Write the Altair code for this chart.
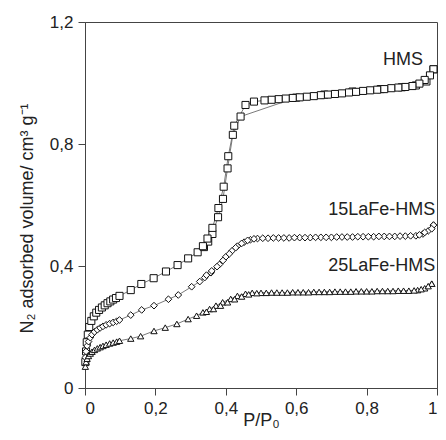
import altair as alt
import pandas as pd

SERIES = ["HMS", "15LaFe-HMS", "25LaFe-HMS"]
SHAPES = ["square", "diamond", "triangle-up"]
SIZES = [50, 40, 46]

# HMS
HMS_ads_P = [0.001,0.003,0.005,0.008,0.012,0.018,0.025,0.032,0.04,0.048,0.056,0.064,0.072,0.08,0.088,0.098,
             0.13,0.16,0.195,0.23,0.263,0.293,0.32,0.338,0.35,0.362,0.378,0.392,0.405,0.42,0.442,
             0.6,0.68,0.76,0.84,0.9,0.94,0.97,0.99]
HMS_ads_V = [0.085,0.12,0.15,0.175,0.2,0.22,0.235,0.247,0.256,0.264,0.271,0.278,0.284,0.29,0.295,0.302,
             0.321,0.341,0.36,0.382,0.403,0.425,0.445,0.462,0.48,0.505,0.56,0.62,0.72,0.83,0.89,
             0.952,0.962,0.972,0.98,0.986,0.992,1.005,1.045]
HMS_des_P = [0.99,0.98,0.965,0.95,
             0.93,0.91,0.89,0.87,0.85,0.83,0.81,0.79,0.77,0.75,0.73,0.71,0.69,0.67,0.65,0.63,0.61,0.59,0.57,0.55,0.53,0.51,
             0.48,0.456,0.424,0.407,0.394,0.379,0.362,0.348,0.335]
HMS_des_V = [1.045,1.025,1.01,0.998,
             0.99,0.987,0.985,0.983,0.98,0.978,0.976,0.974,0.971,0.969,0.966,0.964,0.962,0.96,0.957,0.955,0.953,0.951,0.949,0.947,0.945,0.943,
             0.939,0.928,0.86,0.76,0.66,0.59,0.525,0.49,0.465]

# 15LaFe-HMS
L15_ads_P = [0.001,0.003,0.006,0.01,0.015,0.02,0.027,0.035,0.043,0.051,0.06,0.07,0.08,0.09,0.098,
             0.13,0.161,0.196,0.237,0.265,0.303,0.326,0.34,0.358,0.382,0.4,0.418,0.433,0.452,0.47,0.49,
             0.52,0.55,0.58,0.61,0.64,0.67,0.70,0.73,0.76,0.79,0.82,0.85,0.88,0.91,0.94,
             0.96,0.975,0.99]
L15_ads_V = [0.1,0.12,0.138,0.152,0.165,0.175,0.184,0.191,0.197,0.202,0.207,0.211,0.215,0.219,0.223,
             0.239,0.256,0.27,0.291,0.305,0.332,0.349,0.362,0.378,0.405,0.43,0.45,0.465,0.478,0.486,0.49,
             0.491,0.492,0.492,0.493,0.493,0.494,0.494,0.495,0.495,0.496,0.496,0.497,0.497,0.498,0.499,
             0.505,0.515,0.534]
L15_des_P = [0.99,0.985,0.965,0.95,
             0.925,0.895,0.865,0.835,0.805,0.775,0.745,0.715,0.685,0.655,0.625,0.595,0.565,0.535,0.505,
             0.48,0.462,0.445,0.428,0.41,0.392,0.375,0.36,0.345]
L15_des_V = [0.534,0.522,0.51,0.502,
             0.499,0.498,0.497,0.497,0.496,0.496,0.495,0.495,0.494,0.494,0.493,0.493,0.492,0.492,0.491,
             0.489,0.484,0.474,0.46,0.44,0.418,0.398,0.384,0.37]

# 25LaFe-HMS
L25_ads_P = [0.001,0.003,0.006,0.01,0.015,0.02,0.027,0.035,0.043,0.051,0.06,0.07,0.08,0.09,0.098,
             0.13,0.158,0.196,0.228,0.261,0.293,0.317,0.335,0.354,0.372,0.391,0.414,0.433,0.456,0.475,
             0.5,0.53,0.56,0.59,0.62,0.65,0.68,0.71,0.74,0.77,0.8,0.83,0.86,0.89,0.92,
             0.945,0.965,0.985]
L25_ads_V = [0.07,0.085,0.096,0.105,0.113,0.119,0.125,0.13,0.134,0.138,0.142,0.146,0.149,0.152,0.155,
             0.162,0.17,0.187,0.198,0.21,0.226,0.237,0.248,0.259,0.27,0.281,0.292,0.302,0.309,0.312,
             0.312,0.313,0.313,0.314,0.314,0.315,0.315,0.316,0.316,0.317,0.317,0.318,0.318,0.319,0.319,
             0.321,0.327,0.342]
L25_des_P = [0.985,0.975,0.955,0.935,
             0.905,0.875,0.845,0.815,0.785,0.755,0.725,0.695,0.665,0.635,0.605,0.575,0.545,0.515,
             0.488,0.465,0.445,0.425,0.405,0.385,0.365,0.345]
L25_des_V = [0.342,0.334,0.324,0.32,
             0.319,0.318,0.318,0.317,0.317,0.316,0.316,0.315,0.315,0.314,0.314,0.313,0.313,0.312,
             0.311,0.307,0.3,0.291,0.281,0.27,0.259,0.25]

LABELS = ["HMS", "15LaFe-HMS", "25LaFe-HMS"]
LABEL_P = [0.96, 0.995, 0.995]
LABEL_V = [1.075, 0.584, 0.40]

X_TICKS = [0, 0.2, 0.4, 0.6, 0.8, 1.0]
Y_TICKS = [0, 0.4, 0.8, 1.2]

frames = []
for name, branches in [
    ("HMS", [("ads", HMS_ads_P, HMS_ads_V), ("des", HMS_des_P, HMS_des_V)]),
    ("15LaFe-HMS", [("ads", L15_ads_P, L15_ads_V), ("des", L15_des_P, L15_des_V)]),
    ("25LaFe-HMS", [("ads", L25_ads_P, L25_ads_V), ("des", L25_des_P, L25_des_V)]),
]:
    for br, P, V in branches:
        d = pd.DataFrame({"P": P, "V": V})
        d["series"] = name
        d["branch"] = br
        d["order"] = range(len(d))
        d["key"] = name + "_" + br
        frames.append(d)
df = pd.concat(frames, ignore_index=True)
lab = pd.DataFrame({"label": LABELS, "P": LABEL_P, "V": LABEL_V})

W = 352
xenc = alt.X("P:Q", scale=alt.Scale(domain=[0, 1], nice=False),
             axis=alt.Axis(values=X_TICKS, title="P/P₀",
                           labelExpr="replace(format(datum.value, '~g'), '.', ',')",
                           titleX=W / 2, titleY=37, titleBaseline="alphabetic", titleAlign="center"))
yenc = alt.Y("V:Q", scale=alt.Scale(domain=[0, 1.2], nice=False),
             axis=alt.Axis(values=Y_TICKS, title="N₂ adsorbed volume/ cm³ g⁻¹",
                           labelExpr="replace(format(datum.value, '~g'), '.', ',')",
                           titleX=-53, titleY=196, titleAngle=270, titleBaseline="alphabetic",
                           titleAlign="center"))

base = alt.Chart(df)
lines = base.mark_line(stroke="#6a6a6a", strokeWidth=0.9).encode(
    x=xenc, y=yenc, detail="key:N", order="order:Q")
pts = base.mark_point(filled=True, fill="white", stroke="#111", strokeWidth=1, opacity=1).encode(
    x="P:Q", y="V:Q",
    shape=alt.Shape("series:N", scale=alt.Scale(domain=SERIES, range=SHAPES), legend=None),
    size=alt.Size("series:N", scale=alt.Scale(domain=SERIES, range=SIZES), legend=None),
)
texts = alt.Chart(lab).mark_text(align="right", baseline="middle", fontSize=18,
                                 font="Liberation Sans", color="#222").encode(
    x="P:Q", y="V:Q", text="label:N")

chart = alt.layer(lines, pts, texts).properties(
    width=W, height=366,
    autosize=alt.AutoSizeParams(type="none"),
    padding={"left": 77, "top": 14, "right": 1, "bottom": 44},
).configure_view(stroke="#444", strokeWidth=1).configure_axis(
    grid=False, domainColor="#444", tickColor="#444", tickSize=7,
    labelColor="#222", labelFont="Liberation Sans", labelFontSize=17,
    titleColor="#222", titleFont="Liberation Sans", titleFontSize=18, titleFontWeight="normal",
).configure_axisY(labelPadding=5).configure_axisX(labelPadding=5)

chart.save("out.html", embed_options={"renderer": "svg", "actions": False})
